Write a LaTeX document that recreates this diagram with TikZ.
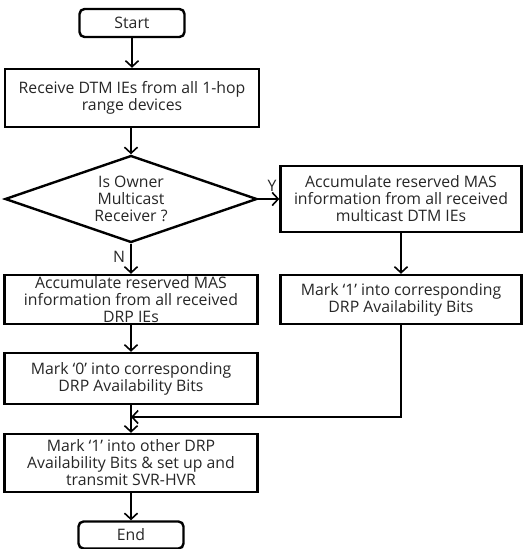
\documentclass[tikz,border=0pt]{standalone}
\usepackage{fontspec}
\setmainfont{Open Sans}
\usetikzlibrary{arrows.meta,shapes.geometric}
\begin{document}
\begin{tikzpicture}[x=1pt,y=-1pt,
  box/.style={draw, line width=2.4pt, inner sep=0pt},
  term/.style={draw, line width=2.4pt, rounded corners=5pt, inner sep=0pt},
  txt/.style={font=\fontsize{15.8}{17}\selectfont, align=center, inner sep=0pt, text=black!85},
  arr/.style={line width=1.6pt, -{Straight Barb[length=6pt,width=13pt,line width=1.6pt]}},
  lbl/.style={font=\fontsize{15.8}{17}\selectfont, inner sep=0pt, text=black!85}]
\useasboundingbox (0,0) rectangle (531,549);
% nodes
\node[term, minimum width=105pt, minimum height=28pt] (start) at (132,23) {};
\node[txt] at (start) {Start};
\node[box, minimum width=254pt, minimum height=58pt] (recv) at (132,98) {};
\node[txt] at (recv) {Receive DTM IEs from all 1-hop\\range devices};
\node[diamond, draw, line width=2.4pt, inner sep=0pt, minimum width=252pt, minimum height=87pt] (dec) at (131,199) {};
\node[txt] at (dec) {Is Owner\\Multicast\\Receiver ?};
\node[box, minimum width=241pt, minimum height=66pt] (accY) at (401,199) {};
\node[txt] at (accY) {Accumulate reserved MAS\\information from all received\\multicast DTM IEs};
\node[box, minimum width=253pt, minimum height=49pt] (accN) at (131,299.5) {};
\node[txt] at (accN) {Accumulate reserved MAS\\information from all received\\DRP IEs};
\node[box, minimum width=241pt, minimum height=49pt] (mark1) at (401,299.5) {};
\node[txt] at (mark1) {Mark ‘1’ into corresponding\\DRP Availability Bits};
\node[box, minimum width=253pt, minimum height=51pt] (mark0) at (131,378.5) {};
\node[txt] at (mark0) {Mark ‘0’ into corresponding\\DRP Availability Bits};
\node[box, minimum width=253pt, minimum height=58pt] (final) at (131,463) {};
\node[txt] at (final) {Mark ‘1’ into other DRP\\Availability Bits \& set up and\\transmit SVR-HVR};
\node[term, minimum width=105pt, minimum height=27pt] (end) at (131,535) {};
\node[txt] at (end) {End};
\coordinate (merge) at (131,417);
% connectors
\draw[arr] (start) -- (recv);
\draw[arr] (recv.south -| dec.north) -- (dec.north);
\draw[arr] (dec.east) -- (accY.west);
\draw[arr] (dec.south) -- (accN.north);
\draw[arr] (accY.south) -- (mark1.north);
\draw[arr] (accN) -- (mark0);
\draw[arr] (mark0) -- (final);
\draw[arr] (mark1.south) |- (merge);
\draw[arr] (final) -- (end);
\node[lbl] at (272,186) {Y};
\node[lbl] at (119,257) {N};
\end{tikzpicture}
\end{document}
